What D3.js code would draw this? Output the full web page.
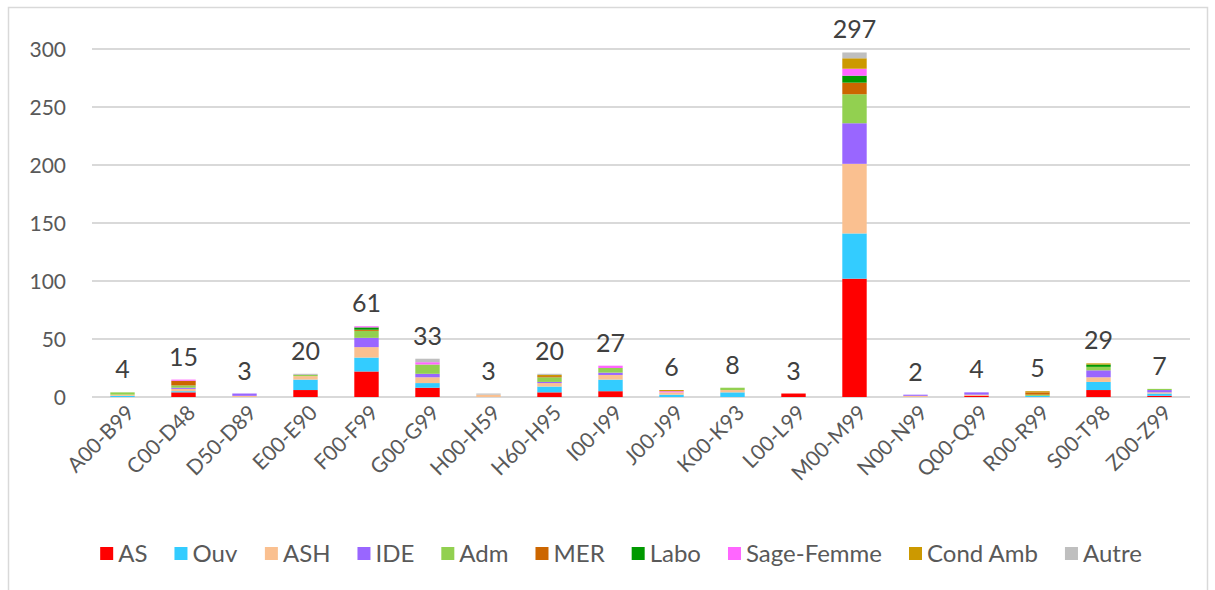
<!DOCTYPE html>
<html lang="fr">
<head>
<meta charset="utf-8">
<title>Stacked bars</title>
<script src="https://cdn.jsdelivr.net/npm/d3@7"></script>
<style>
  body { margin: 0; background: #fff; }
  svg { font-family: Lato, "Open Sans", sans-serif; }
  .grid line { stroke: #d9d9d9; stroke-width: 2; }
  .ylab text { fill: #595959; font-size: 21px; }
  .xlab text { fill: #595959; font-size: 21px; }
  .total { fill: #404040; font-size: 25px; }
  .legend text { fill: #595959; font-size: 24px; }
</style>
</head>
<body>
<svg width="1215" height="590"></svg>
<script>
// categories (codes CIM)
var categories = ["A00-B99","C00-D48","D50-D89","E00-E90","F00-F99","G00-G99","H00-H59","H60-H95","I00-I99",
                  "J00-J99","K00-K93","L00-L99","M00-M99","N00-N99","Q00-Q99","R00-R99","S00-T98","Z00-Z99"];
var seriesNames = ["AS","Ouv","ASH","IDE","Adm","MER","Labo","Sage-Femme","Cond Amb","Autre"];
var colors = ["#ff0000","#33ccff","#fac090","#9966ff","#92d050","#cc6600","#009900","#ff66ff","#cc9900","#bfbfbf"];

// values per series, one per category
var AS        = [0, 4, 0, 6, 22, 8, 0, 4, 5, 0, 0, 3, 102, 0, 1, 0, 6, 1];
var Ouv       = [1, 1, 0, 9, 12, 4, 0, 5, 10, 2, 4, 0, 39, 0, 0, 1, 7, 2];
var ASH       = [1, 2, 1, 3, 9, 5, 2, 3, 4, 2, 2, 0, 60, 1, 1, 0, 4, 1];
var IDE       = [0, 1, 2, 0, 8, 3, 0, 1, 2, 0, 0, 0, 35, 1, 2, 0, 6, 2];
var Adm       = [2, 2, 0, 1, 6, 8, 0, 4, 4, 0, 2, 0, 25, 0, 0, 1, 3, 1];
var MER       = [0, 4, 0, 0, 1, 0, 0, 1, 0, 0, 0, 0, 10, 0, 0, 2, 0, 0];
var Labo      = [0, 0, 0, 0, 2, 0, 0, 0, 0, 0, 0, 0, 6, 0, 0, 0, 2, 0];
var SageFemme = [0, 1, 0, 0, 1, 2, 0, 0, 2, 1, 0, 0, 6, 0, 0, 0, 0, 0];
var CondAmb   = [0, 0, 0, 0, 0, 0, 0, 1, 0, 1, 0, 0, 9, 0, 0, 1, 1, 0];
var Autre     = [0, 0, 0, 1, 0, 3, 1, 1, 0, 0, 0, 0, 5, 0, 0, 0, 0, 0];
var yTicks = [0, 50, 100, 150, 200, 250, 300];

var seriesValues = [AS, Ouv, ASH, IDE, Adm, MER, Labo, SageFemme, CondAmb, Autre];

var rows = categories.map(function(c, i) {
  var r = { cat: c };
  seriesNames.forEach(function(s, k) { r[s] = seriesValues[k][i]; });
  return r;
});

var svg = d3.select("svg");

// chart frame
svg.append("rect")
   .attr("x", 8.5).attr("y", 7.5)
   .attr("width", 1199).attr("height", 600)
   .attr("fill", "none").attr("stroke", "#d9d9d9").attr("stroke-width", 1.5);

var x = d3.scaleBand().domain(categories).range([92, 1190]).paddingInner(0.6).paddingOuter(0.3);
var y = d3.scaleLinear().domain([0, 300]).range([397, 49]);

// gridlines
svg.append("g").attr("class", "grid")
   .selectAll("line").data(yTicks).enter().append("line")
   .attr("x1", 92).attr("x2", 1190)
   .attr("y1", function(d) { return y(d); })
   .attr("y2", function(d) { return y(d); });

// y labels
svg.append("g").attr("class", "ylab")
   .selectAll("text").data(yTicks).enter().append("text")
   .attr("x", 66)
   .attr("y", function(d) { return y(d); })
   .attr("dy", "0.36em")
   .attr("text-anchor", "end")
   .text(function(d) { return d; });

// stacked bars
var stack = d3.stack().keys(seriesNames)(rows);
svg.append("g").selectAll("g").data(stack).enter().append("g")
   .attr("fill", function(d, i) { return colors[i]; })
   .selectAll("rect").data(function(d) { return d; }).enter().append("rect")
   .attr("x", function(d) { return x(d.data.cat); })
   .attr("width", x.bandwidth())
   .attr("y", function(d) { return y(d[1]); })
   .attr("height", function(d) { return y(d[0]) - y(d[1]); });

// totals
svg.append("g").selectAll("text").data(rows).enter().append("text")
   .attr("class", "total")
   .attr("text-anchor", "middle")
   .attr("x", function(d) { return x(d.cat) + x.bandwidth() / 2; })
   .attr("y", function(d) {
     var t = d3.sum(seriesNames, function(s) { return d[s]; });
     return y(t) - 14;
   })
   .text(function(d) { return d3.sum(seriesNames, function(s) { return d[s]; }); });

// x labels, rotated
svg.append("g").attr("class", "xlab")
   .selectAll("text").data(categories).enter().append("text")
   .attr("text-anchor", "end")
   .attr("transform", function(d) {
     return "translate(" + (x(d) + x.bandwidth() / 2 + 8) + ",409) rotate(-45)";
   })
   .attr("dy", "0.35em")
   .text(function(d) { return d; });

// legend
var legend = svg.append("g").attr("class", "legend");
var items = legend.selectAll("g").data(seriesNames).enter().append("g");
items.append("rect").attr("width", 13).attr("height", 13).attr("y", -7)
     .attr("fill", function(d, i) { return colors[i]; });
items.append("text").attr("x", 18).attr("dy", "0.35em").text(function(d) { return d; });

var pos = 0, offsets = [];
items.each(function() {
  offsets.push(pos);
  pos += this.getBBox().width + 27;
});
var total = pos - 27;
var start = 621 - total / 2;
items.attr("transform", function(d, i) { return "translate(" + (start + offsets[i]) + ",554)"; });
</script>
</body>
</html>
